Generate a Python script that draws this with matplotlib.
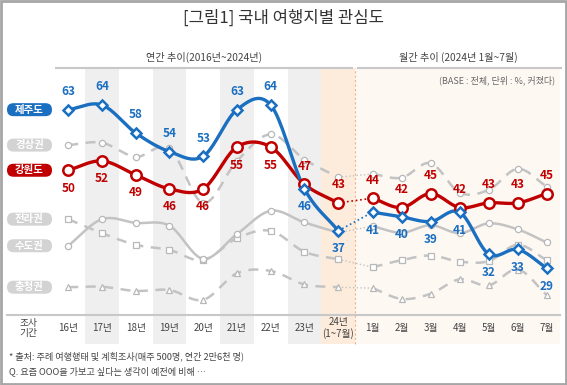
import numpy as np
import matplotlib
matplotlib.use('Agg')
import matplotlib.pyplot as plt
from matplotlib.patches import FancyBboxPatch, Rectangle

plt.rcParams['font.family'] = ['Noto Sans CJK KR', 'DejaVu Sans']

# categories
years = ['16년', '17년', '18년', '19년', '20년', '21년', '22년', '23년', '24년\n(1~7월)']
months = ['1월', '2월', '3월', '4월', '5월', '6월', '7월']

# series (yearly, monthly), % "커졌다"
jeju_y = [63, 64, 58, 54, 53, 63, 64, 46, 37]
jeju_m = [41, 40, 39, 41, 32, 33, 29]
gangwon_y = [50, 52, 49, 46, 46, 55, 55, 47, 43]
gangwon_m = [44, 42, 45, 42, 43, 43, 45]
# gray series have no labels ->
gyeongsang_y = [55.4, 55.9, 52.9, 54.7, 43.0, 52.0, 57.7, 52.3, 48.5]
gyeongsang_m = [49.2, 48.4, 51.5, 45.2, 45.8, 50.3, 46.5]
jeolla_y = [39.5, 36.5, 34.0, 32.9, 30.7, 35.4, 37.0, 32.5, 30.9]
jeolla_m = [29.2, 30.7, 31.7, 30.4, 30.5, 34.0, 30.7]
sudo_y = [33.8, 39.5, 38.7, 38.1, 31.0, 36.3, 41.3, 38.8, 36.6]
sudo_m = [38.0, 36.6, 38.2, 36.5, 38.6, 37.3, 34.5]
chung_y = [24.9, 25.0, 24.1, 24.3, 22.2, 27.9, 28.4, 25.5, 24.9]
chung_m = [24.7, 22.4, 23.5, 26.6, 25.3, 28.7, 23.2]

BLUE = '#1a6fc1'
RED = '#c00000'
GRAY = '#c3c3c3'

# x positions: yearly columns 1 unit apart, monthly a bit narrower
xy = np.arange(len(years), dtype=float)
xm = len(years) + 0.02 + np.arange(len(months)) * 0.86


def smooth(xs, ys, n=20):
    # catmull-rom through the points
    xs = np.asarray(xs, float)
    ys = np.asarray(ys, float)
    px = np.concatenate([[2 * xs[0] - xs[1]], xs, [2 * xs[-1] - xs[-2]]])
    py = np.concatenate([[2 * ys[0] - ys[1]], ys, [2 * ys[-1] - ys[-2]]])
    t = np.linspace(0, 1, n, endpoint=False)
    ox, oy = [], []
    for i in range(1, len(px) - 2):
        for p, o in ((px, ox), (py, oy)):
            p0, p1, p2, p3 = p[i - 1], p[i], p[i + 1], p[i + 2]
            o.extend(0.5 * (2 * p1 + (-p0 + p2) * t
                            + (2 * p0 - 5 * p1 + 4 * p2 - p3) * t ** 2
                            + (-p0 + 3 * p1 - 3 * p2 + p3) * t ** 3))
    ox.append(xs[-1])
    oy.append(ys[-1])
    return ox, oy


fig = plt.figure(figsize=(5.67, 3.85), dpi=100)
W, H = 567, 385
ax = fig.add_axes([52 / W, 1 - 315 / H, 510 / W, 247 / H])
ax.set_xlim(-0.48, 14.63)
ax.set_ylim(18.94, 71.94)
ax.axis('off')

# column backgrounds
for i in [1, 3, 5, 7]:
    ax.axvspan(i - 0.5, i + 0.5, ymin=-0.117, ymax=1, color='#efefef', lw=0, clip_on=False, zorder=0)
ax.axvspan(7.5, 8.5, ymin=-0.117, ymax=1, color='#fdecdc', lw=0, clip_on=False, zorder=0)
ax.axvspan(8.5, 14.57, ymin=-0.117, ymax=1, color='#fef8f3', lw=0, clip_on=False, zorder=0)
ax.axvline(8.5, ymin=-0.117, ymax=1, color='#f4b183', lw=0.8, ls=(0, (2, 2)), clip_on=False, zorder=1)

gray_series = [
    (gyeongsang_y, gyeongsang_m, 'o', (0, (4, 3))),
    (jeolla_y, jeolla_m, 's', (0, (4, 3))),
    (sudo_y, sudo_m, 'o', '-'),
    (chung_y, chung_m, '^', (0, (4, 3))),
]
for sy, sm, mk, ls in gray_series:
    for xs, ys in ((xy, sy), (xm, sm)):
        cx, cy = smooth(xs, ys)
        ax.plot(cx, cy, color=GRAY, lw=1.8, ls=ls, zorder=2, solid_capstyle='round')
        ax.plot(xs, ys, ls='none', marker=mk, ms=4.5, mfc='white', mec='#b8b8b8', mew=0.9, zorder=3)
    ax.plot([xy[-1], xm[0]], [sy[-1], sm[0]], color=GRAY, lw=1, ls=':', zorder=2)

main_series = [
    (gangwon_y, gangwon_m, RED, 'o', 7.5,
     [-1, -1, -1, -1, -1, -1, -1, 1, 1], [1] * 7),
    (jeju_y, jeju_m, BLUE, 'D', 5.5,
     [1, 1, 1, 1, 1, 1, 1, -1, -1], [-1] * 7),
]
for sy, sm, col, mk, ms, pos_y, pos_m in main_series:
    for xs, ys in ((xy, sy), (xm, sm)):
        cx, cy = smooth(xs, ys)
        ax.plot(cx, cy, color=col, lw=2.4, zorder=5, solid_capstyle='round')
        ax.plot(xs, ys, ls='none', marker=mk, ms=ms, mfc='white', mec=col, mew=1.8, zorder=6)
    ax.plot([xy[-1], xm[0]], [sy[-1], sm[0]], color=col, lw=1.2, ls=':', zorder=5)
    for xs, ys, pos in ((xy, sy, pos_y), (xm, sm, pos_m)):
        for x, v, p in zip(xs, ys, pos):
            ax.annotate(str(v), (x, v), xytext=(0, 13 * p), textcoords='offset points',
                        ha='center', va='center', color=col, fontsize=8.5,
                        fontweight='bold', zorder=7)

# category labels under the plot
for x, lab in zip(np.concatenate([xy, xm]), years + months):
    ax.text(x, -0.053, lab, transform=ax.get_xaxis_transform(), ha='center', va='center',
            fontsize=7, color='#444444', linespacing=1.1)

# overlay in pixel units for frame texts
ov = fig.add_axes([0, 0, 1, 1], zorder=10)
ov.set_xlim(0, W)
ov.set_ylim(H, 0)
ov.axis('off')
ov.patch.set_alpha(0)

ov.add_patch(Rectangle((1, 1), W - 2, H - 2, fill=False, ec='#a6a6a6', lw=2))
ov.text(W / 2, 18, '[그림1] 국내 여행지별 관심도', ha='center', va='center', fontsize=12,
        fontweight='medium', color='#333333')
ov.text(204, 57, '연간 추이(2016년~2024년)', ha='center', va='center', fontsize=7.3, color='#444444')
ov.text(458, 57, '월간 추이 (2024년 1월~7월)', ha='center', va='center', fontsize=7.3, color='#444444')
ov.plot([56, 352], [67.5, 67.5], color='#c8c8c8', lw=1.5)
ov.plot([358, 561], [67.5, 67.5], color='#c8c8c8', lw=1.5)
ov.text(555, 80, '(BASE : 전체, 단위 : %, 커졌다)', ha='right', va='center', fontsize=6.5, color='#666666')
ov.plot([7, 560], [315, 315], color='#c8c8c8', lw=1.5)
ov.text(28, 328, '조사\n기간', ha='center', va='center', fontsize=7, color='#444444', linespacing=1.1)
ov.text(9, 356, '* 출처: 주례 여행행태 및 계획조사(매주 500명, 연간 2만6천 명)', ha='left', va='center',
        fontsize=6.6, color='#444444')
ov.text(9, 371, 'Q. 요즘 OOO을 가보고 싶다는 생각이 예전에 비해 …', ha='left', va='center',
        fontsize=6.6, color='#444444')

# name tags aligned with each series' first value
tags = [('제주도', jeju_y[0], BLUE), ('경상권', gyeongsang_y[0], '#d3d3d3'),
        ('강원도', gangwon_y[0], RED), ('전라권', jeolla_y[0], '#d3d3d3'),
        ('수도권', sudo_y[0], '#d3d3d3'), ('충청권', chung_y[0], '#d3d3d3')]
fig.canvas.draw()
for name, v, col in tags:
    _, py = ov.transData.inverted().transform(ax.transData.transform((0, v)))
    ov.add_patch(FancyBboxPatch((7, py - 6.5), 45, 13, boxstyle='round,pad=0,rounding_size=6.5',
                                fc=col, ec='none'))
    ov.text(29.5, py, name, ha='center', va='center', fontsize=7.5, fontweight='bold', color='white')

fig.savefig('out.png', dpi=100)
